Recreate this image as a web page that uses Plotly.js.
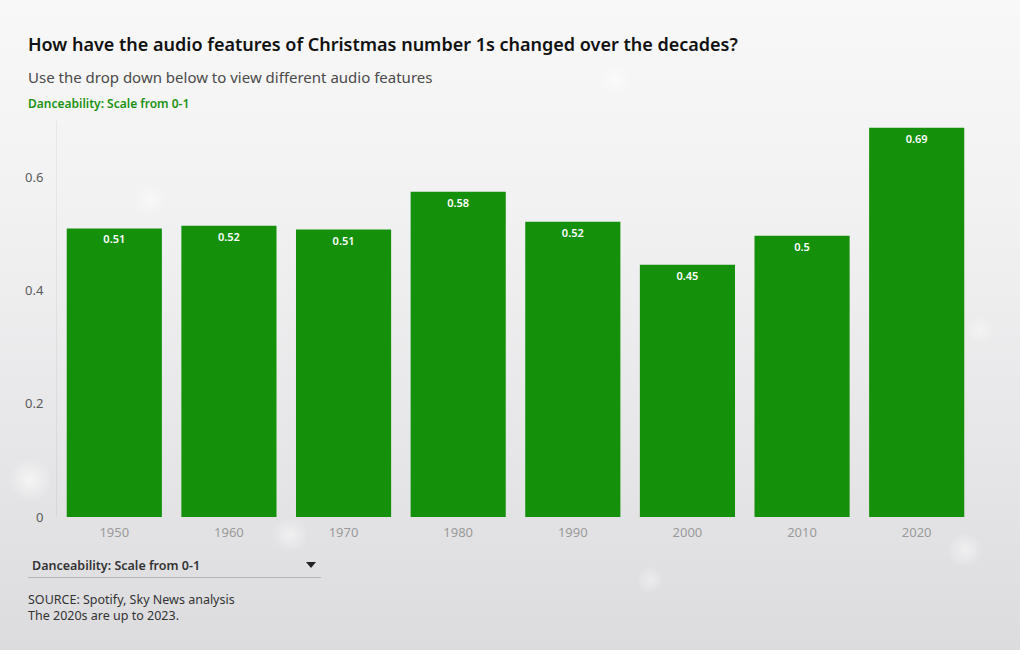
<!DOCTYPE html>
<html>
<head>
<meta charset="utf-8">
<script src="https://cdn.plot.ly/plotly-3.0.1.min.js"></script>
<style>
  html, body { margin: 0; padding: 0; }
  body {
    width: 1020px; height: 650px; overflow: hidden;
    background:
      radial-gradient(circle at 30px 480px, rgba(255,255,255,0.6) 0, rgba(255,255,255,0) 22px),
      radial-gradient(circle at 290px 535px, rgba(255,255,255,0.5) 0, rgba(255,255,255,0) 18px),
      radial-gradient(circle at 965px 550px, rgba(255,255,255,0.5) 0, rgba(255,255,255,0) 18px),
      radial-gradient(circle at 150px 200px, rgba(255,255,255,0.5) 0, rgba(255,255,255,0) 16px),
      radial-gradient(circle at 615px 80px, rgba(255,255,255,0.5) 0, rgba(255,255,255,0) 16px),
      radial-gradient(circle at 980px 330px, rgba(255,255,255,0.4) 0, rgba(255,255,255,0) 14px),
      radial-gradient(circle at 650px 580px, rgba(255,255,255,0.4) 0, rgba(255,255,255,0) 14px),
      linear-gradient(to bottom, #f8f8f8 0%, #f2f2f3 30%, #e6e6e8 70%, #dcdcdf 100%);
  }
  #chart { width: 1020px; height: 650px; }
</style>
</head>
<body>
<div id="chart"></div>
<script>
const decades = ["1950", "1960", "1970", "1980", "1990", "2000", "2010", "2020"];
const danceability = [0.510, 0.515, 0.508, 0.575, 0.522, 0.446, 0.497, 0.688];
const valueLabels = ["0.51", "0.52", "0.51", "0.58", "0.52", "0.45", "0.5", "0.69"];
const yTicks = [0, 0.2, 0.4, 0.6];
const yTickLabels = ["0", "0.2", "0.4", "0.6"];
const titleText = "How have the audio features of Christmas number 1s changed over the decades?";
const subtitleText = "Use the drop down below to view different audio features";
const featureLabel = "Danceability: Scale from 0-1";
const sourceText = "SOURCE: Spotify, Sky News analysis<br>The 2020s are up to 2023.";

const FONT = "Noto Sans, Open Sans, sans-serif";
const GREEN = "#14900b";

// pixel -> paper helpers (plot area: x 57..974, y 121..517)
const L = 57, R = 46, T = 121, B = 133, W = 1020, H = 650;
const pw = W - L - R, ph = H - T - B;
const px = x => (x - L) / pw;
const py = y => (H - B - y) / ph;

const trace = {
  type: "bar",
  x: decades,
  y: danceability,
  text: valueLabels,
  textposition: "inside",
  insidetextanchor: "end",
  textangle: 0,
  constraintext: "none",
  insidetextfont: { family: FONT, size: 11, color: "#ffffff", weight: 600 },
  marker: { color: GREEN },
  hoverinfo: "x+y",
  cliponaxis: false
};

const layout = {
  width: W, height: H,
  margin: { l: L, r: R, t: T, b: B, pad: 0 },
  paper_bgcolor: "rgba(0,0,0,0)",
  plot_bgcolor: "rgba(0,0,0,0)",
  bargap: 0.17,
  showlegend: false,
  font: { family: FONT },
  xaxis: {
    type: "category",
    showgrid: false, zeroline: false, showline: false, ticks: "",
    tickfont: { family: FONT, size: 13, color: "#9a9a9a" },
    ticklabelstandoff: 6
  },
  yaxis: {
    range: [0, 0.7],
    tickvals: yTicks, ticktext: yTickLabels,
    showgrid: false, zeroline: false,
    showline: true, linecolor: "rgba(0,0,0,0.05)", linewidth: 1,
    ticks: "",
    tickfont: { family: FONT, size: 13, color: "#5a5a5a" },
    ticklabelstandoff: 10
  },
  annotations: [
    { text: titleText, xref: "paper", yref: "paper",
      x: px(26), y: py(44), xanchor: "left", yanchor: "middle", showarrow: false,
      font: { family: FONT, size: 18, color: "#111111", weight: 600 } },
    { text: subtitleText, xref: "paper", yref: "paper",
      x: px(26), y: py(77), xanchor: "left", yanchor: "middle", showarrow: false,
      font: { family: FONT, size: 15, color: "#4a4a4a" } },
    { text: featureLabel, xref: "paper", yref: "paper",
      x: px(26), y: py(104), xanchor: "left", yanchor: "middle", showarrow: false,
      font: { family: FONT, size: 12, color: "#1c9212", weight: 600 } },
    { text: featureLabel, xref: "paper", yref: "paper",
      x: px(30), y: py(565), xanchor: "left", yanchor: "middle", showarrow: false,
      font: { family: FONT, size: 12.5, color: "#333333", weight: 600 } },
    { text: sourceText, xref: "paper", yref: "paper",
      x: px(26), y: py(607), xanchor: "left", yanchor: "middle", align: "left",
      showarrow: false,
      font: { family: FONT, size: 12.5, color: "#333333" } }
  ],
  shapes: [
    { type: "line", xref: "paper", yref: "paper",
      x0: px(28), x1: px(321), y0: py(577.5), y1: py(577.5),
      line: { color: "#b5b5b5", width: 1 } },
    { type: "path", xref: "paper", yref: "paper",
      path: "M " + px(306) + " " + py(562) + " L " + px(316) + " " + py(562) +
            " L " + px(311) + " " + py(568) + " Z",
      fillcolor: "#222222", line: { width: 0 } }
  ]
};

Plotly.newPlot("chart", [trace], layout, { displayModeBar: false, responsive: false });
</script>
</body>
</html>
